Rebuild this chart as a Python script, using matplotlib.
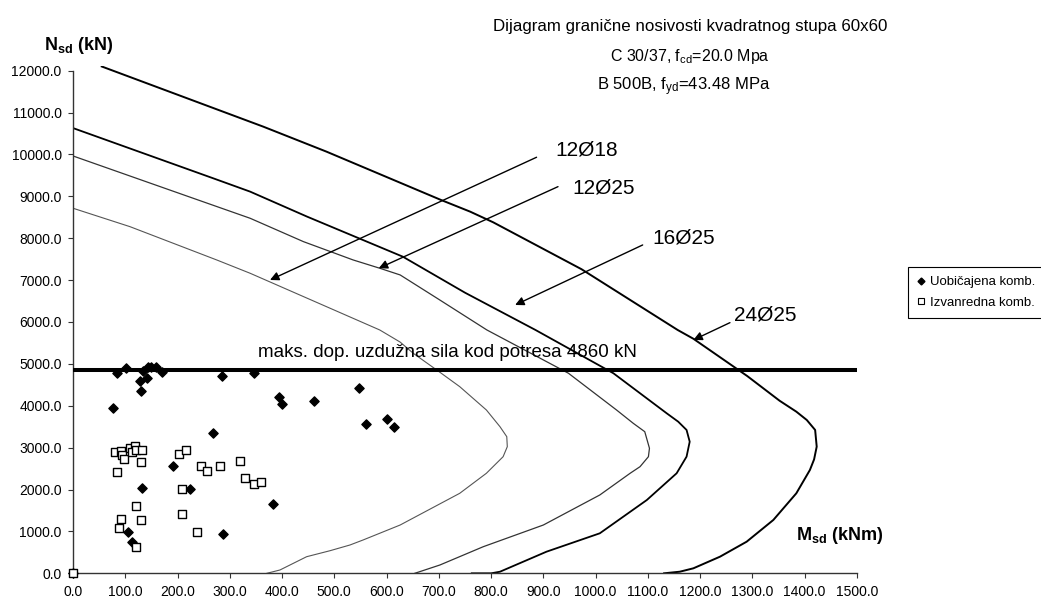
import matplotlib
matplotlib.use("Agg")
import matplotlib.pyplot as plt
from matplotlib.lines import Line2D
from matplotlib.ticker import FormatStrFormatter

plt.rcParams["font.family"] = ["Liberation Sans", "DejaVu Sans"]
plt.rcParams["mathtext.fontset"] = "custom"
plt.rcParams["mathtext.rm"] = "Liberation Sans"
plt.rcParams["mathtext.bf"] = "Liberation Sans:bold"
plt.rcParams["mathtext.it"] = "Liberation Sans:italic"

# Interaction curves (M in kNm, N in kN) for each reinforcement layout
m_12d18 = [0, 109, 275, 339, 587, 626, 651, 702, 740, 791, 817, 830, 831, 823, 791, 740,
           626, 555, 530, 492, 447, 396, 371]
n_12d18 = [8716, 8276, 7481, 7163, 5809, 5520, 5253, 4800, 4456, 3899, 3500, 3262, 3023, 2784, 2388, 1910,
           1153, 795, 676, 540, 396, 79, 0]

m_12d25 = [0, 230, 339, 441, 536, 587, 626, 700, 792, 948, 1040, 1072, 1094, 1103, 1101, 1085,
           1066, 1008, 900, 785, 702, 654]
n_12d25 = [9964, 8954, 8476, 7918, 7481, 7283, 7123, 6540, 5809, 4776, 3899, 3581, 3381, 2985, 2784, 2546,
           2388, 1870, 1153, 635, 198, 0]

m_16d25 = [0, 268, 339, 448, 631, 750, 885, 1034, 1136, 1158, 1174, 1180, 1174, 1155, 1098,
           1008, 906, 817, 800, 763]
n_16d25 = [10630, 9432, 9112, 8515, 7560, 6700, 5809, 4776, 3820, 3620, 3422, 3142, 2785, 2388, 1750,
           955, 516, 38, 0, 0]

m_24d25 = [55, 364, 485, 704, 760, 804, 973, 1157, 1187, 1290, 1352, 1384, 1404, 1420, 1423, 1418,
           1410, 1384, 1340, 1289, 1238, 1187, 1161, 1131]
n_24d25 = [12100, 10664, 10067, 8914, 8634, 8380, 7260, 5809, 5600, 4710, 4120, 3859, 3660, 3422, 3024, 2720,
           2467, 1910, 1273, 755, 397, 119, 38, 0]

# Design load combinations
m_uob = [0, 83.6, 101, 134.5, 144, 148.6, 158, 169.7, 128, 141, 131, 77, 284.5, 347, 267,
         190.7, 133, 224.5, 383, 104.6, 112, 287, 394, 399, 462, 548, 560.5, 600, 615]
n_uob = [0, 4776, 4909, 4838, 4933, 4933, 4933, 4814, 4600, 4655, 4361, 3940, 4711, 4776, 3343,
         2570, 2045, 2006, 1647, 994, 755, 931, 4210, 4035, 4121, 4417, 3558, 3677, 3486]

m_izv = [0, 80, 91, 93, 97.6, 85, 110, 118, 113.5, 120.5, 132.6, 129.5, 203, 215.6, 208.5,
         208.5, 245.5, 256, 281, 319.5, 329, 346, 359, 121, 91, 129.5, 88.6, 121, 236.6]
n_izv = [0, 2889, 2920, 2825, 2729, 2411, 2999, 3040, 2889, 2944, 2944, 2650, 2849, 2944, 2020,
         1423, 2562, 2450, 2562, 2674, 2268, 2140, 2173, 1614, 1304, 1280, 1074, 621, 994]

n_max_seismic = 4860

x_ticks = [i * 100.0 for i in range(16)]
y_ticks = [i * 1000.0 for i in range(13)]

fig = plt.figure(figsize=(10.41, 6.03), dpi=100)
ax = fig.add_axes([0.0701, 0.04925, 0.7531, 0.8405])

ax.plot(m_12d18, n_12d18, color="#555555", lw=0.8, zorder=2)
ax.plot(m_12d25, n_12d25, color="#333333", lw=0.9, zorder=2)
ax.plot(m_16d25, n_16d25, color="black", lw=1.3, zorder=2)
ax.plot(m_24d25, n_24d25, color="black", lw=1.4, zorder=2)

ax.axhline(n_max_seismic, color="black", lw=2.9, zorder=3)
ax.text(716, 5270, "maks. dop. uzdužna sila kod potresa %d kN" % n_max_seismic,
        ha="center", va="center", fontsize=13.5, zorder=4)

ax.scatter(m_uob, n_uob, marker="D", s=22, color="black", zorder=5, clip_on=False)
ax.scatter(m_izv, n_izv, marker="s", s=28, facecolor="white", edgecolor="black",
           linewidths=1.0, zorder=5, clip_on=False)

# Reinforcement labels with arrows
arrow_kw = dict(arrowstyle="-|>", color="black", lw=1.0, mutation_scale=13, shrinkA=0, shrinkB=0)
ax.annotate("", xy=(377, 7003), xytext=(887, 9933), arrowprops=arrow_kw)
ax.annotate("", xy=(585, 7283), xytext=(928, 9231), arrowprops=arrow_kw)
ax.annotate("", xy=(846, 6406), xytext=(1090, 7839), arrowprops=arrow_kw)
ax.annotate("", xy=(1187, 5571), xytext=(1257, 5984), arrowprops=arrow_kw)
ax.text(982, 10100, "12Ø18", ha="center", va="center", fontsize=15)
ax.text(1016, 9200, "12Ø25", ha="center", va="center", fontsize=15)
ax.text(1169, 8000, "16Ø25", ha="center", va="center", fontsize=15)
ax.text(1324, 6168, "24Ø25", ha="center", va="center", fontsize=15)

ax.set_xlim(0, 1500)
ax.set_ylim(0, 12100)
ax.set_xticks(x_ticks)
ax.set_yticks(y_ticks)
ax.xaxis.set_major_formatter(FormatStrFormatter("%.1f"))
ax.yaxis.set_major_formatter(FormatStrFormatter("%.1f"))
for s in ("top", "right"):
    ax.spines[s].set_visible(False)
for s in ("left", "bottom"):
    ax.spines[s].set_color("#333333")
    ax.spines[s].set_linewidth(1.0)
ax.spines["left"].set_bounds(0, 12000)
ax.tick_params(direction="out", length=3.6, width=0.8, color="#333333",
               labelsize=10, pad=4.5)
ax.patch.set_visible(False)

fig.text(79 / 1041, 1 - 45 / 603, r"N$_{\mathbf{sd}}$ (kN)", ha="center", va="center",
         fontsize=13, fontweight="bold")
fig.text(840 / 1041, 1 - 535 / 603, r"M$_{\mathbf{sd}}$ (kNm)", ha="center", va="center",
         fontsize=13, fontweight="bold")

fig.text(690 / 1041, 1 - 26 / 603, "Dijagram granične nosivosti kvadratnog stupa 60x60",
         ha="center", va="center", fontsize=12.2)
fig.text(690 / 1041, 1 - 57 / 603, r"C 30/37, f$_{\mathrm{cd}}$=20.0 Mpa",
         ha="center", va="center", fontsize=11.5)
fig.text(684 / 1041, 1 - 87 / 603, r"B 500B, f$_{\mathrm{yd}}$=43.48 MPa",
         ha="center", va="center", fontsize=12)

handles = [
    Line2D([], [], marker="D", ls="none", color="black", markersize=3.5),
    Line2D([], [], marker="s", ls="none", markerfacecolor="white", markeredgecolor="black",
           markeredgewidth=0.8, markersize=4.5),
]
leg = fig.legend(handles, ["Uobičajena komb.", "Izvanredna komb."],
                 loc="upper left", bbox_to_anchor=(908 / 1041, 1 - 267 / 603),
                 fontsize=9.5, frameon=True, fancybox=False, framealpha=1,
                 edgecolor="black", handlelength=0.6, handletextpad=0.35,
                 borderpad=0.7, labelspacing=0.6, borderaxespad=0)
leg.get_frame().set_linewidth(0.8)

fig.savefig("out.png", dpi=100)
